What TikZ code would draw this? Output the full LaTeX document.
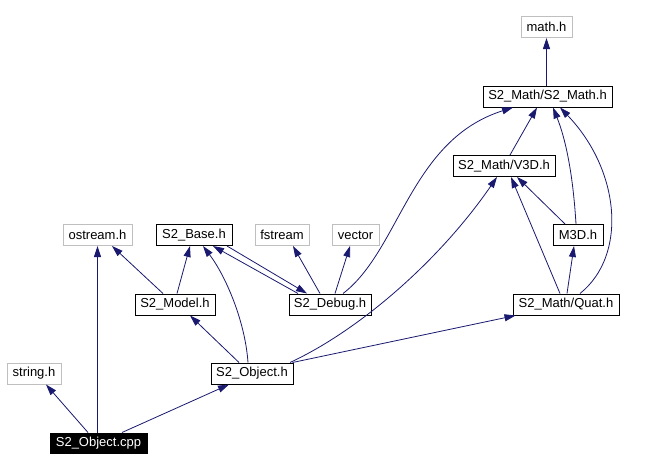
\documentclass[tikz,border=0pt]{standalone}
\usepackage{fontspec}
\setmainfont{Liberation Sans}
\usetikzlibrary{arrows.meta}
\definecolor{edgecol}{HTML}{191970}
\definecolor{graycol}{HTML}{BFBFBF}
\begin{document}
\begin{tikzpicture}[x=1pt,y=-1pt,
  font=\fontsize{13}{15}\selectfont,
  box/.style={draw=black, line width=1pt, inner sep=0pt, minimum height=21pt, anchor=center},
  gbox/.style={box, draw=graycol},
  hbox/.style={box, fill=black, text=white},
  link/.style={draw=edgecol, line width=0.8pt, -{Triangle[length=11pt,width=7pt]}}]
\useasboundingbox (0,0) rectangle (660,471);
\fill[white] (0,0) rectangle (660,471);

\node[gbox, minimum width=51pt]  (math)    at (546.5,27)    {math.h};
\node[box,  minimum width=129pt] (sm)      at (547.5,96.5)  {S2\_Math/S2\_Math.h};
\node[box,  minimum width=102pt] (v3d)     at (504,166)     {S2\_Math/V3D.h};
\node[box,  minimum width=50pt]  (m3d)     at (578,235)     {M3D.h};
\node[box,  minimum width=106pt] (quat)    at (566,304.5)   {S2\_Math/Quat.h};
\node[box,  minimum width=82pt]  (debug)   at (330,304.5)   {S2\_Debug.h};
\node[gbox, minimum width=47pt]  (vector)  at (355.5,235)   {vector};
\node[gbox, minimum width=54pt]  (fstream) at (282,235)     {fstream};
\node[box,  minimum width=76pt]  (base)    at (194,235)     {S2\_Base.h};
\node[gbox, minimum width=69pt]  (ostream) at (97.5,235)    {ostream.h};
\node[box,  minimum width=80pt]  (model)   at (175,304.5)   {S2\_Model.h};
\node[gbox, minimum width=54pt]  (string)  at (34,373.5)    {string.h};
\node[box,  minimum width=82pt]  (obj)     at (252,373.5)   {S2\_Object.h};
\node[hbox, minimum width=97pt, minimum height=20pt] (cpp) at (98.5,443) {S2\_Object.cpp};

\draw[link] ([xshift=-10.5pt]cpp.north) -- ([xshift=12pt]string.south);
\draw[link] ([xshift=-1pt]cpp.north) -- (ostream.south);
\draw[link] ([xshift=23.5pt]cpp.north) -- ([xshift=-23pt]obj.south);
\draw[link] ([xshift=-13pt]obj.north) -- ([xshift=15pt]model.south);
\draw[link] ([xshift=-4pt]obj.north) .. controls (245,320) and (225,275) .. ([xshift=9pt]base.south);
\draw[link] ([xshift=38pt]obj.north) .. controls (360,330) and (440,260) .. ([xshift=-7pt]v3d.south);
\draw[link] ([xshift=-1pt]obj.north east) -- ([xshift=3pt]quat.south west);
\draw[link] ([xshift=-12pt]model.north) -- ([xshift=14.5pt]ostream.south);
\draw[link] ([xshift=2pt]model.north) -- ([xshift=-4pt]base.south);
\draw[link] ([xshift=33pt]base.south) -- ([xshift=-23pt]debug.north);
\draw[link] ([xshift=-32pt]debug.north) -- ([xshift=19pt]base.south);
\draw[link] ([xshift=-10pt]debug.north) -- ([xshift=11pt]fstream.south);
\draw[link] ([xshift=5pt]debug.north) -- ([xshift=-5.5pt]vector.south);
\draw[link] ([xshift=13pt]debug.north) .. controls (400,250) and (410,140) .. ([xshift=-34.5pt]sm.south);
\draw[link] ([xshift=6pt]v3d.north) -- ([xshift=-10.5pt]sm.south);
\draw[link] ([xshift=-1pt]sm.north) -- (math.south);
\draw[link] ([xshift=-13pt]m3d.north) -- ([xshift=13pt]v3d.south);
\draw[link] ([xshift=-2pt]m3d.north) .. controls (573,175) and (566,140) .. ([xshift=5.5pt]sm.south);
\draw[link] ([xshift=1pt]quat.north) -- ([xshift=-4pt]m3d.south);
\draw[link] ([xshift=-6pt]quat.north) -- ([xshift=7pt]v3d.south);
\draw[link] ([xshift=14pt]quat.north) .. controls (628,255) and (620,170) .. ([xshift=12.5pt]sm.south);
\end{tikzpicture}
\end{document}
